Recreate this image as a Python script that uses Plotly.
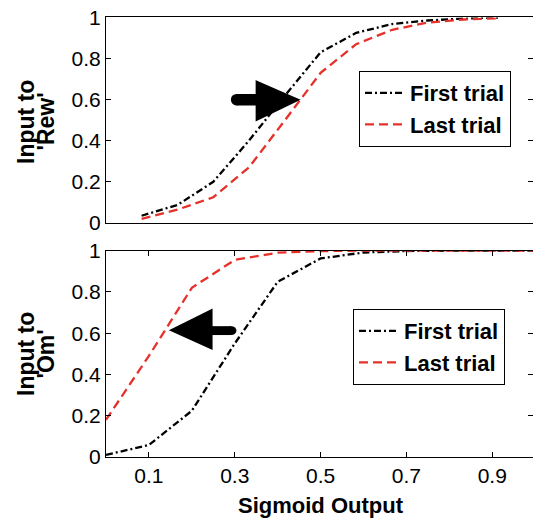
import plotly.graph_objects as go

# ---- data ----
x_top = [0.083, 0.167, 0.25, 0.333, 0.417, 0.5, 0.583, 0.667, 0.75, 0.833, 0.917]
rew_first = [0.035, 0.088, 0.20, 0.40, 0.62, 0.83, 0.925, 0.968, 0.985, 0.995, 1.0]
rew_last = [0.02, 0.065, 0.125, 0.27, 0.50, 0.73, 0.87, 0.94, 0.975, 0.99, 0.996]

x_bot = [0.0, 0.1, 0.2, 0.3, 0.4, 0.5, 0.6, 0.7, 0.8, 0.9, 1.0]
om_first = [0.01, 0.058, 0.224, 0.55, 0.849, 0.962, 0.991, 0.998, 1.0, 1.0, 1.0]
om_last = [0.18, 0.49, 0.82, 0.955, 0.99, 0.998, 1.0, 1.0, 1.0, 1.0, 1.0]

series_names = ["First trial", "Last trial"]
x_ticks = [0.1, 0.3, 0.5, 0.7, 0.9]
y_ticks = [0, 0.2, 0.4, 0.6, 0.8, 1]

FONT = "Liberation Sans, Arial, Helvetica, sans-serif"
BLACK_DASH = "7px,3px,2px,3px"
RED_DASH = "9px,5px"
RED = "#e8302a"

fig = go.Figure()

fig.add_trace(go.Scatter(x=x_top, y=rew_first, mode="lines", name=series_names[0],
                         line=dict(color="black", width=2.3, dash=BLACK_DASH),
                         xaxis="x", yaxis="y", legend="legend"))
fig.add_trace(go.Scatter(x=x_top, y=rew_last, mode="lines", name=series_names[1],
                         line=dict(color=RED, width=2.3, dash=RED_DASH),
                         xaxis="x", yaxis="y", legend="legend"))
fig.add_trace(go.Scatter(x=x_bot, y=om_first, mode="lines", name=series_names[0],
                         line=dict(color="black", width=2.3, dash=BLACK_DASH),
                         xaxis="x2", yaxis="y2", legend="legend2"))
fig.add_trace(go.Scatter(x=x_bot, y=om_last, mode="lines", name=series_names[1],
                         line=dict(color=RED, width=2.3, dash=RED_DASH),
                         xaxis="x2", yaxis="y2", legend="legend2"))

XR = [0, 0.995]
YR = [0, 1]
tickfont = dict(family=FONT, size=21, color="black")

common_x = dict(range=XR, showgrid=False, zeroline=False, showline=True,
                linecolor="black", linewidth=1)
common_y = dict(range=YR, showgrid=False, zeroline=False, showline=True,
                linecolor="black", linewidth=1, ticks="inside", ticklen=5,
                tickcolor="black", tickvals=y_ticks, tickfont=tickfont)

legend_font = dict(family=FONT, size=22, color="black", weight="bold")

fig.update_layout(
    width=533, height=519,
    margin=dict(l=106, r=0, t=17, b=62),
    paper_bgcolor="white", plot_bgcolor="white",
    xaxis=dict(**common_x, domain=[0, 1], anchor="y", mirror=True,
               ticks="", showticklabels=False),
    yaxis=dict(**common_y, domain=[0.532, 0.999], anchor="x"),
    xaxis2=dict(**common_x, domain=[0, 1], anchor="y2", mirror="ticks",
                ticks="inside", ticklen=5, tickcolor="black",
                tickvals=x_ticks, tickfont=tickfont),
    yaxis2=dict(**common_y, domain=[0, 0.469], anchor="x2"),
    yaxis3=dict(range=YR, overlaying="y", side="right", anchor="x",
                showgrid=False, zeroline=False, showline=False,
                ticks="inside", ticklen=5, tickcolor="black",
                tickvals=y_ticks, showticklabels=False),
    yaxis4=dict(range=YR, overlaying="y2", side="right", anchor="x2",
                showgrid=False, zeroline=False, showline=False,
                ticks="inside", ticklen=5, tickcolor="black",
                tickvals=y_ticks, showticklabels=False),
    legend=dict(x=(359 - 106) / 427, y=(457 - 71) / 440, xanchor="left", yanchor="top",
                bordercolor="black", borderwidth=1, bgcolor="white",
                font=legend_font, tracegroupgap=0, itemwidth=40),
    legend2=dict(x=(353 - 106) / 427, y=(457 - 309) / 440, xanchor="left", yanchor="top",
                 bordercolor="black", borderwidth=1, bgcolor="white",
                 font=legend_font, tracegroupgap=0, itemwidth=40),
    showlegend=True,
)

# dummy traces to make right-side tick axes exist
fig.add_trace(go.Scatter(x=[None], y=[None], xaxis="x", yaxis="y3", showlegend=False, hoverinfo="skip"))
fig.add_trace(go.Scatter(x=[None], y=[None], xaxis="x2", yaxis="y4", showlegend=False, hoverinfo="skip"))

# arrows (annotation shapes)
def arrow(xref, yref, tip, base_x, base_y0, base_y1, shaft_x, shaft_y0, shaft_y1, rx):
    shapes = []
    shapes.append(dict(type="path", xref=xref, yref=yref,
                       path=f"M {base_x},{base_y1} L {tip[0]},{tip[1]} L {base_x},{base_y0} Z",
                       fillcolor="black", line=dict(color="black", width=2)))
    shapes.append(dict(type="rect", xref=xref, yref=yref,
                       x0=min(base_x, shaft_x), x1=max(base_x, shaft_x),
                       y0=shaft_y0, y1=shaft_y1, fillcolor="black", line=dict(width=0)))
    shapes.append(dict(type="circle", xref=xref, yref=yref,
                       x0=shaft_x - rx, x1=shaft_x + rx, y0=shaft_y0, y1=shaft_y1,
                       fillcolor="black", line=dict(width=0)))
    return shapes

shapes = []
shapes += arrow("x", "y", (0.448, 0.599), 0.351, 0.501, 0.688, 0.304, 0.572, 0.628, 0.013)
shapes += arrow("x2", "y2", (0.152, 0.615), 0.246, 0.526, 0.712, 0.292, 0.591, 0.634, 0.012)
fig.update_layout(shapes=shapes)

title_font = dict(family=FONT, size=23, color="black", weight="bold")

def px_x(px):
    return (px - 106) / 427

def px_y(py):
    return (457 - py) / 440

for txt, cx, cy in [("Input to", 26, 122), ("'Rew'", 45.5, 122),
                    ("Input to", 26, 354), ("'Om'", 45.5, 354)]:
    fig.add_annotation(text=txt, xref="paper", yref="paper", x=px_x(cx), y=px_y(cy),
                       xanchor="center", yanchor="middle", textangle=-90,
                       showarrow=False, font=title_font)

fig.add_annotation(text="Sigmoid Output", xref="paper", yref="paper",
                   x=px_x(321), y=px_y(505), xanchor="center", yanchor="middle",
                   showarrow=False, font=dict(family=FONT, size=22, color="black", weight="bold"))

fig.write_html("out.html")
